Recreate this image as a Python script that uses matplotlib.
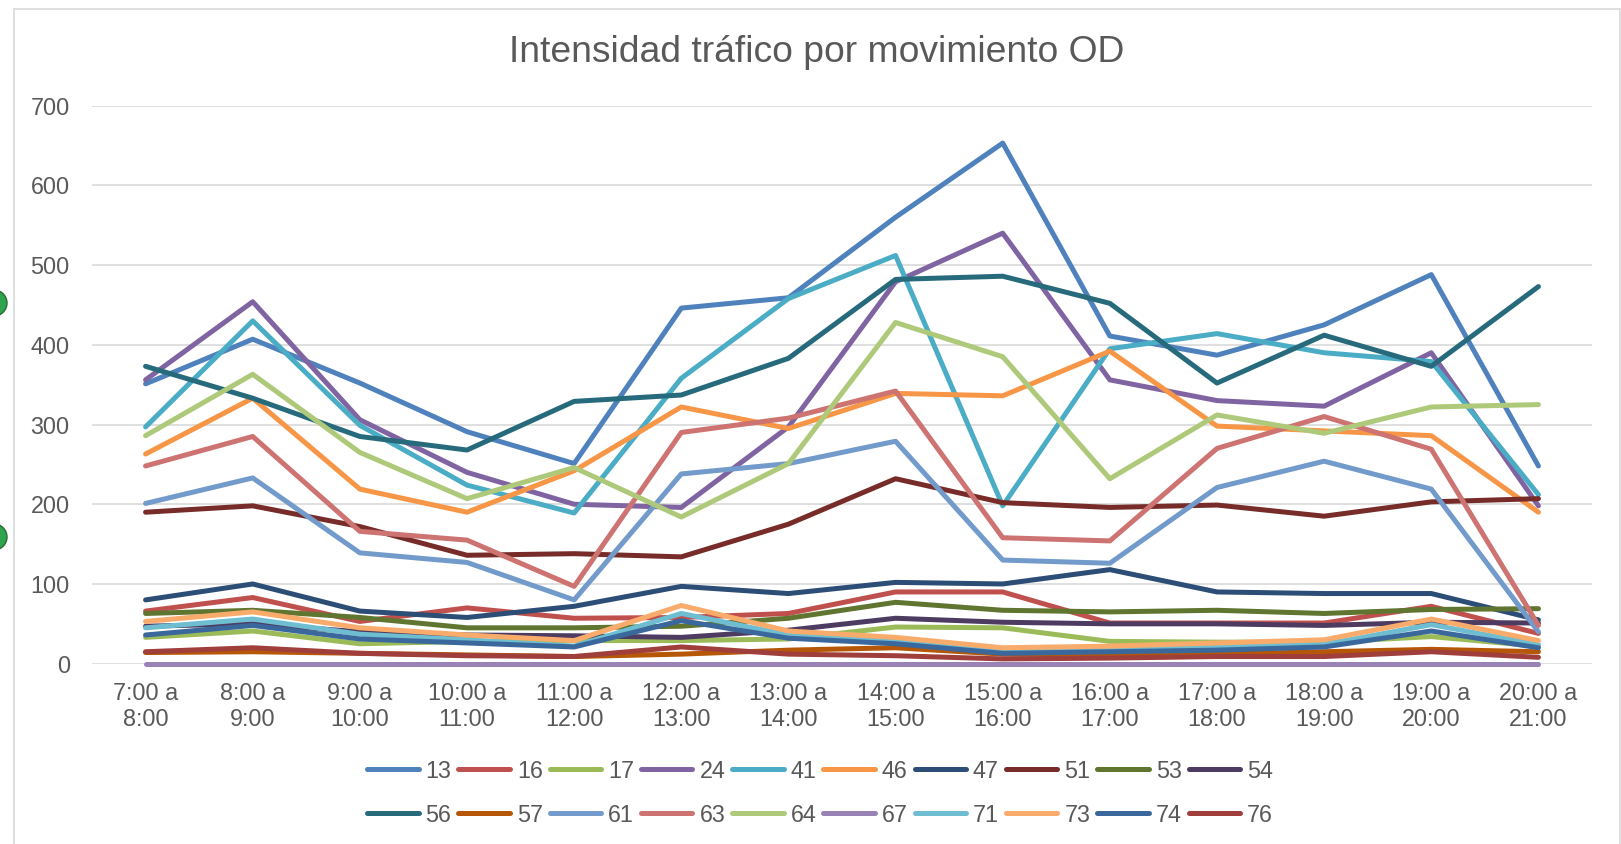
import matplotlib
matplotlib.use("Agg")
import matplotlib.pyplot as plt
from matplotlib.patches import Rectangle, Ellipse

plt.rcParams['font.family'] = ['Liberation Sans', 'DejaVu Sans']

W, H = 1621, 844
TEXT = "#595959"
GRID = "#D9D9D9"

title = "Intensidad tráfico por movimiento OD"
hours = ["7:00 a\n8:00", "8:00 a\n9:00", "9:00 a\n10:00", "10:00 a\n11:00",
         "11:00 a\n12:00", "12:00 a\n13:00", "13:00 a\n14:00", "14:00 a\n15:00",
         "15:00 a\n16:00", "16:00 a\n17:00", "17:00 a\n18:00", "18:00 a\n19:00",
         "19:00 a\n20:00", "20:00 a\n21:00"]

# vehicles per hour for each OD movement
s13 = [351, 407, 352, 291, 251, 446, 459, 560, 653, 411, 387, 425, 488, 248]
s16 = [66, 83, 53, 70, 57, 58, 63, 90, 90, 51, 51, 51, 72, 38]
s17 = [33, 41, 25, 28, 29, 29, 31, 46, 45, 28, 27, 27, 34, 22]
s24 = [356, 454, 306, 240, 200, 196, 297, 479, 540, 356, 330, 323, 390, 198]
s41 = [297, 430, 299, 224, 189, 358, 458, 512, 198, 395, 414, 390, 379, 212]
s46 = [263, 333, 219, 190, 242, 322, 295, 339, 336, 392, 298, 292, 286, 190]
s47 = [80, 100, 66, 58, 72, 97, 88, 102, 100, 118, 90, 88, 88, 55]
s51 = [190, 198, 172, 136, 138, 134, 175, 232, 202, 196, 199, 185, 203, 207]
s53 = [63, 67, 58, 45, 45, 47, 57, 77, 67, 65, 67, 63, 68, 69]
s54 = [47, 50, 40, 36, 35, 33, 42, 57, 52, 50, 50, 48, 52, 51]
s56 = [373, 333, 285, 268, 329, 337, 383, 482, 486, 452, 352, 412, 373, 473]
s57 = [14, 15, 13, 11, 9, 12, 17, 20, 12, 11, 12, 15, 18, 15]
s61 = [201, 233, 139, 127, 80, 238, 251, 279, 130, 126, 221, 254, 219, 40]
s63 = [248, 285, 166, 155, 97, 290, 308, 342, 158, 154, 270, 310, 269, 48]
s64 = [286, 363, 265, 207, 246, 184, 251, 428, 385, 232, 312, 289, 322, 325]
s67 = [0, 0, 0, 0, 0, 0, 0, 0, 0, 0, 0, 0, 0, 0]
s71 = [45, 56, 37, 30, 22, 63, 36, 28, 17, 18, 21, 24, 49, 24]
s73 = [53, 65, 45, 36, 29, 73, 41, 33, 20, 22, 26, 30, 56, 29]
s74 = [36, 48, 31, 26, 21, 54, 32, 25, 13, 15, 17, 21, 41, 20]
s76 = [15, 20, 13, 10, 9, 21, 12, 10, 6, 7, 9, 9, 15, 8]

names = ["13", "16", "17", "24", "41", "46", "47", "51", "53", "54",
         "56", "57", "61", "63", "64", "67", "71", "73", "74", "76"]
series = [s13, s16, s17, s24, s41, s46, s47, s51, s53, s54,
          s56, s57, s61, s63, s64, s67, s71, s73, s74, s76]
colors = ["#4F81BD", "#C0504D", "#9BBB59", "#8064A2", "#4BACC6", "#F79646",
          "#2C4D75", "#772C2A", "#5F7530", "#4D3B62", "#276A7C", "#B65708",
          "#729ACA", "#CD7371", "#AFC97A", "#9983B5", "#6FBDD1", "#F9AB6B",
          "#3A679C", "#9F3E3B"]

fig = plt.figure(figsize=(W / 100, H / 100), dpi=100)

# chart frame
fig.patches.append(Rectangle((14 / W, -0.02), 1606 / W, 1.02 - 9 / H,
                             transform=fig.transFigure, fill=False,
                             edgecolor=GRID, linewidth=1.2))
# resize handles on the left edge
for cy in (303, 537):
    fig.patches.append(Ellipse((-6 / W, 1 - cy / H), 26 / W, 26 / H,
                               transform=fig.transFigure, facecolor="#2EA44F",
                               edgecolor="#2B6B35", linewidth=1.0))

ax = fig.add_axes([92 / W, (H - 663.7) / H, 1500 / W, (663.7 - 105.6) / H])

x = range(len(hours))
lines = []
for name, vals, c in zip(names, series, colors):
    ln, = ax.plot(x, vals, color=c, lw=3.6, label=name, clip_on=False,
                  solid_capstyle="round", solid_joinstyle="round")
    lines.append(ln)

ax.set_xlim(-0.5, len(hours) - 0.5)
ax.set_ylim(0, 700)
ax.set_yticks(range(0, 701, 100))
ax.set_xticks(list(x))
ax.set_xticklabels(hours)
ax.grid(axis="y", color=GRID, lw=1.2)
ax.set_axisbelow(True)
for sp in ax.spines.values():
    sp.set_visible(False)
ax.tick_params(axis="y", length=0, pad=16, labelsize=16.8, labelcolor=TEXT)
ax.tick_params(axis="x", length=0, pad=13, labelsize=16.8, labelcolor=TEXT)

fig.text(817 / W, 1 - 53 / H, title, ha="center", va="center",
         fontsize=26.8, color=TEXT)

# legend laid out row by row: first ten in the top row
order = []
for i in range(10):
    order += [i, i + 10]
leg = fig.legend([lines[i] for i in order], [names[i] for i in order],
                 ncol=10, loc="center", bbox_to_anchor=(820 / W, 1 - 793 / H),
                 frameon=False, fontsize=16.8, handlelength=2.2,
                 handletextpad=0.3, columnspacing=0.3, labelspacing=0.9)
for t in leg.get_texts():
    t.set_color(TEXT)

fig.savefig("out.png", dpi=100)
